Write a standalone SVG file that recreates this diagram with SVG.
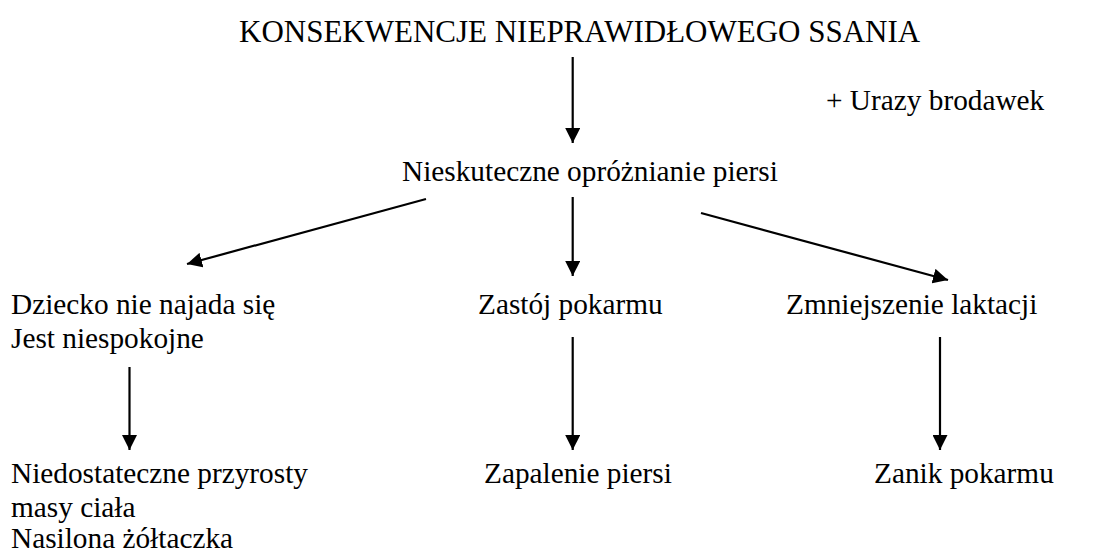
<svg xmlns="http://www.w3.org/2000/svg" width="1099" height="552" viewBox="0 0 1099 552">
<style>
text{font-family:'Liberation Serif','DejaVu Serif',serif;font-size:29.3px;fill:#000}
.title{font-size:31px}
.c line{stroke:#000;stroke-width:2.2;marker-end:url(#ah)}
</style>
<defs>
<marker id="ah" viewBox="0 0 10 10" refX="10" refY="5" markerUnits="userSpaceOnUse" markerWidth="15" markerHeight="15" orient="auto">
<path d="M0,0 L10,5 L0,10 z" fill="#000"/>
</marker>
</defs>
<rect width="1099" height="552" fill="#fff"/>
<g id="title"><text class="title" x="239" y="42">KONSEKWENCJE NIEPRAWIDŁOWEGO SSANIA</text></g>
<g id="urazy"><text x="826" y="110">+ Urazy brodawek</text></g>
<g id="nieskuteczne"><text x="402" y="181">Nieskuteczne opróżnianie piersi</text></g>
<g id="dziecko"><text x="11" y="314">Dziecko nie najada się</text><text x="11" y="348">Jest niespokojne</text></g>
<g id="zastoj"><text x="478" y="314">Zastój pokarmu</text></g>
<g id="zmniejszenie"><text x="786" y="314">Zmniejszenie laktacji</text></g>
<g id="niedostateczne"><text x="11" y="483">Niedostateczne przyrosty</text><text x="11" y="517">masy ciała</text><text x="11" y="548">Nasilona żółtaczka</text></g>
<g id="zapalenie"><text x="484" y="483">Zapalenie piersi</text></g>
<g id="zanik"><text x="874" y="483">Zanik pokarmu</text></g>
<g class="c" id="connectors">
<line x1="572.7" y1="57" x2="572.7" y2="143"/>
<line x1="426" y1="199" x2="187" y2="264"/>
<line x1="572.7" y1="197" x2="572.7" y2="276"/>
<line x1="701" y1="213" x2="948" y2="280"/>
<line x1="129.5" y1="367" x2="129.5" y2="450"/>
<line x1="572.7" y1="337" x2="572.7" y2="450"/>
<line x1="940" y1="337" x2="940" y2="450"/>
</g>
</svg>
